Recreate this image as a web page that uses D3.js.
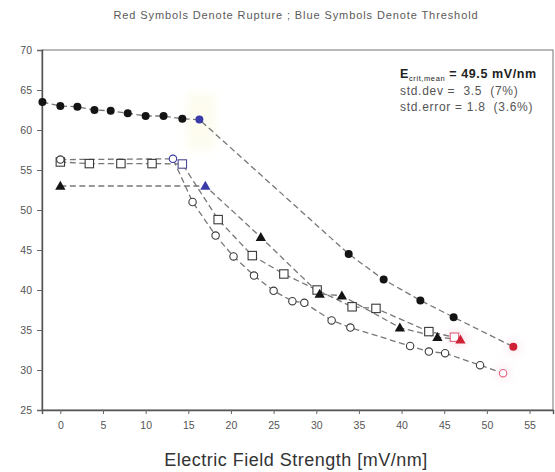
<!DOCTYPE html>
<html>
<head>
<meta charset="utf-8">
<script src="https://cdn.jsdelivr.net/npm/d3@7"></script>
<style>
  html, body { margin: 0; padding: 0; background: #fff; }
  svg { display: block; font-family: "Liberation Sans", Arial, sans-serif; }
  text { white-space: pre; }
</style>
</head>
<body>
<svg id="chart" width="555" height="472"></svg>
<script>
// Axis ticks
const xTicks = [0, 5, 10, 15, 20, 25, 30, 35, 40, 45, 50, 55];
const yTicks = [25, 30, 35, 40, 45, 50, 55, 60, 65, 70];

// Filled circles
const filledCircleX = [-2.1, 0.0, 2.0, 4.0, 5.9, 7.9, 10.0, 12.1, 14.3, 16.3, 33.8, 37.9, 42.2, 46.1, 53.1];
const filledCircleY = [63.5, 63.0, 62.9, 62.5, 62.4, 62.1, 61.75, 61.75, 61.4, 61.3, 44.5, 41.3, 38.7, 36.6, 32.9];
const filledCircleThreshold = 9;

// Open squares
const squareX = [0.0, 3.4, 7.1, 10.75, 14.3, 18.5, 22.5, 26.2, 30.1, 34.2, 37.0, 43.2, 46.2];
const squareY = [56.0, 55.8, 55.8, 55.8, 55.75, 48.8, 44.3, 42.0, 40.0, 37.9, 37.7, 34.8, 34.1];
const squareThreshold = 4;

// Open circles
const openCircleX = [0.0, 13.2, 15.5, 18.2, 20.3, 22.7, 25.0, 27.2, 28.6, 31.8, 34.0, 41.0, 43.2, 45.1, 49.2, 51.9];
const openCircleY = [56.3, 56.4, 51.0, 46.8, 44.2, 41.8, 39.9, 38.6, 38.4, 36.2, 35.3, 33.0, 32.3, 32.1, 30.6, 29.6];
const openCircleThreshold = 1;

// Filled triangles
const triangleX = [0.0, 17.0, 23.5, 30.4, 33.0, 39.8, 44.2, 46.9];
const triangleY = [53.0, 53.0, 46.6, 39.5, 39.3, 35.3, 34.1, 33.8];
const triangleThreshold = 1;

const titleText = "Red Symbols Denote Rupture ; Blue Symbols Denote Threshold";
const xLabel = "Electric Field Strength [mV/nm]";
const statsLines = ["std.dev =  3.5  (7%)", "std.error = 1.8  (3.6%)"];

const svg = d3.select("#chart");
const plot = { left: 42, right: 553, top: 50, bottom: 410 };

const x = d3.scaleLinear().domain([-2.15, 57.75]).range([plot.left, plot.right]);
const y = d3.scaleLinear().domain([25, 70]).range([plot.bottom, plot.top]);

const BLACK = "#141414", BLUE = "#3a3aa8", RED = "#cf2036", PINK = "#e0607a", OPEN_STROKE = "#3a3a3a";

const defs = svg.append("defs");
defs.append("filter").attr("id", "soft").attr("x", "-50%").attr("y", "-50%").attr("width", "200%").attr("height", "200%")
  .append("feGaussianBlur").attr("stdDeviation", 4);

// Title
svg.append("text")
  .attr("x", 296).attr("y", 19)
  .attr("text-anchor", "middle")
  .attr("font-size", 11).attr("letter-spacing", 0.9).attr("fill", "#5a5a5a")
  .text(titleText);

// Frame
svg.append("rect")
  .attr("x", plot.left).attr("y", plot.top)
  .attr("width", plot.right - plot.left).attr("height", plot.bottom - plot.top)
  .attr("fill", "none").attr("stroke", "#8a8a8a").attr("stroke-width", 1.2);

// Axes
const xAxis = svg.append("g")
  .attr("transform", `translate(0,${plot.bottom})`)
  .call(d3.axisBottom(x).tickValues(xTicks).tickSize(4).tickPadding(8).tickFormat(d3.format("d")));
const yAxis = svg.append("g")
  .attr("transform", `translate(${plot.left},0)`)
  .call(d3.axisLeft(y).tickValues(yTicks).tickSize(5).tickPadding(5).tickFormat(d3.format("d")));
[xAxis, yAxis].forEach(g => {
  g.select(".domain").attr("stroke", "#555").attr("stroke-width", 1.4);
  g.selectAll(".tick line").attr("stroke", "#666");
  g.selectAll(".tick text").attr("fill", "#555").attr("font-size", 10.5)
    .attr("font-family", "\"Liberation Sans\", Arial, sans-serif");
});

// X axis title
svg.append("text")
  .attr("x", 296).attr("y", 466)
  .attr("text-anchor", "middle")
  .attr("font-size", 18).attr("letter-spacing", 0.5).attr("fill", "#333")
  .text(xLabel);

// Stats annotation
const stats = svg.append("text")
  .attr("x", 400).attr("y", 78)
  .attr("font-size", 12.5).attr("font-weight", "bold").attr("letter-spacing", 0.6).attr("fill", "#222");
stats.append("tspan").text("E");
stats.append("tspan").attr("font-size", 7.5).attr("font-weight", "normal").attr("dy", 3).text("crit,mean");
stats.append("tspan").attr("dy", -3).text(" = 49.5 mV/nm");
statsLines.forEach((t, i) => {
  svg.append("text")
    .attr("x", 400).attr("y", 95 + i * 15.5)
    .attr("font-size", 12).attr("letter-spacing", 0.7).attr("fill", "#555")
    .text(t);
});

// Soft highlight behind the threshold / rupture markers
const glow = svg.append("g").attr("filter", "url(#soft)");
glow.append("rect")
  .attr("x", x(filledCircleX[filledCircleThreshold]) - 12)
  .attr("y", y(filledCircleY[filledCircleThreshold]) - 26)
  .attr("width", 28).attr("height", 56)
  .attr("fill", "#fbf8dc").attr("opacity", 0.45);
[[filledCircleX, filledCircleY], [squareX, squareY], [openCircleX, openCircleY], [triangleX, triangleY]].forEach(([xs, ys]) => {
  const i = xs.length - 1;
  glow.append("circle").attr("cx", x(xs[i])).attr("cy", y(ys[i])).attr("r", 8)
    .attr("fill", "#f6d3dc").attr("opacity", 0.4);
});

// Connecting dashed lines
const line = d3.line().x(d => x(d[0])).y(d => y(d[1]));
const zip = (xs, ys) => xs.map((v, i) => [v, ys[i]]);
const series = [
  { xs: squareX, ys: squareY, thr: squareThreshold, shape: "square" },
  { xs: openCircleX, ys: openCircleY, thr: openCircleThreshold, shape: "openCircle" },
  { xs: triangleX, ys: triangleY, thr: triangleThreshold, shape: "triangle" },
  { xs: filledCircleX, ys: filledCircleY, thr: filledCircleThreshold, shape: "filledCircle" }
];
series.forEach(s => {
  svg.append("path")
    .datum(zip(s.xs, s.ys))
    .attr("d", line)
    .attr("fill", "none")
    .attr("stroke", "#777")
    .attr("stroke-width", 1.3)
    .attr("stroke-dasharray", "6,3.5");
});

// Markers
function colorFor(i, s) {
  if (i === s.xs.length - 1) return RED;
  if (i === s.thr) return BLUE;
  return null;
}
series.forEach(s => {
  const g = svg.append("g");
  zip(s.xs, s.ys).forEach((p, i) => {
    const c = colorFor(i, s);
    const cx = x(p[0]), cy = y(p[1]);
    if (s.shape === "filledCircle") {
      g.append("circle").attr("cx", cx).attr("cy", cy).attr("r", 4)
        .attr("fill", c || BLACK);
    } else if (s.shape === "openCircle") {
      g.append("circle").attr("cx", cx).attr("cy", cy).attr("r", 3.7)
        .attr("fill", "#fff").attr("stroke", c ? (c === RED ? PINK : BLUE) : OPEN_STROKE)
        .attr("stroke-width", 1.1);
    } else if (s.shape === "square") {
      g.append("rect").attr("x", cx - 4.2).attr("y", cy - 4.2).attr("width", 8.4).attr("height", 8.4)
        .attr("fill", "#fff").attr("stroke", c ? (c === RED ? PINK : "#4a4a90") : OPEN_STROKE)
        .attr("stroke-width", 1.1);
    } else {
      g.append("path")
        .attr("d", d3.symbol(d3.symbolTriangle, 46)())
        .attr("transform", `translate(${cx},${cy + 0.8})`)
        .attr("fill", c || BLACK);
    }
  });
});
</script>
</body>
</html>
